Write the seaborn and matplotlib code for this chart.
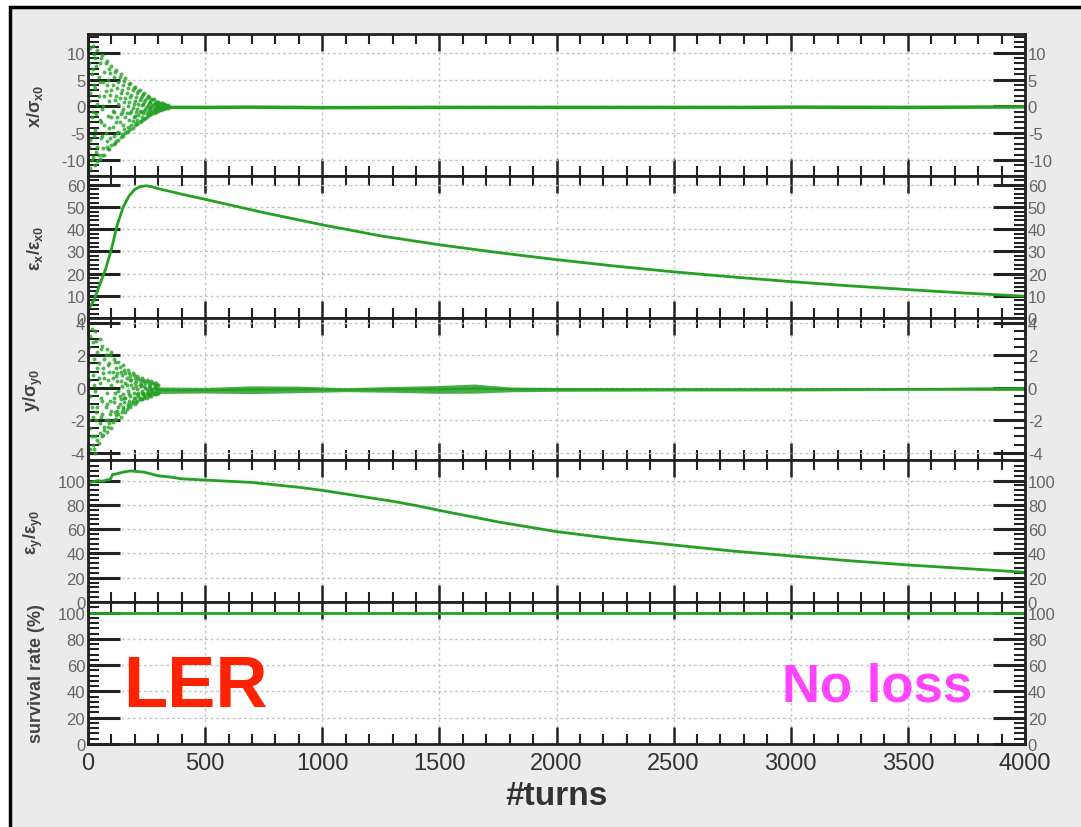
import numpy as np
import pandas as pd
import seaborn as sns
import matplotlib
matplotlib.use("Agg")
import matplotlib.pyplot as plt
from matplotlib.ticker import MultipleLocator
from matplotlib.patches import Rectangle

# ---------------- data ----------------
# panel 1: x / sigma_x0 -- early scattered cloud (turn, value)
x_cloud_turns = [t for t in range(0, 350, 10) for _ in range(4)]
x_cloud_vals = [
    11.5, 5.0, -3.0, -11.0,   10.8, 2.5, -6.2, -11.5,   11.2, 7.0, -1.0, -9.5,
    9.0, 3.5, -4.5, -11.0,    10.5, 0.5, -7.5, -10.2,   8.0, 4.5, -2.5, -9.8,
    9.5, -0.5, -5.5, -9.0,    6.5, 2.0, -3.5, -9.0,     8.5, 4.0, -6.5, -7.5,
    7.0, 1.0, -4.0, -8.0,     7.5, 3.0, -2.0, -7.2,     5.5, -1.0, -5.5, -7.0,
    6.8, 2.0, -3.0, -6.5,     4.5, 0.5, -4.8, -6.2,     6.0, 2.5, -1.5, -5.8,
    4.0, -0.5, -3.5, -5.5,    5.2, 1.5, -2.0, -5.0,     3.5, 0.0, -3.8, -4.6,
    4.4, 1.8, -1.2, -4.2,     3.0, -0.3, -2.8, -4.0,    3.6, 1.0, -1.8, -3.5,
    2.5, -0.5, -2.5, -3.3,    3.0, 1.2, -1.0, -2.9,     2.0, 0.2, -2.0, -2.6,
    2.4, 0.8, -0.8, -2.3,     1.6, -0.2, -1.4, -2.0,    1.8, 0.6, -0.6, -1.7,
    1.2, -0.1, -1.1, -1.5,    1.3, 0.4, -0.5, -1.2,     0.9, 0.0, -0.7, -1.0,
    0.8, 0.3, -0.3, -0.8,     0.6, -0.1, -0.5, -0.6,    0.4, 0.1, -0.2, -0.5,
    0.3, -0.1, -0.3, -0.4,    0.2, 0.0, -0.2, -0.3,
]
x_cloud2_turns = [t for t in range(5, 345, 10) for _ in range(3)]
x_cloud2_vals = [
    8.0, 1.0, -7.5,   6.0, -2.0, -10.0,   9.8, 4.0, -5.5,   7.5, -1.5, -8.5,
    5.5, 2.0, -9.0,   9.0, -3.0, -6.0,    4.5, 0.0, -7.8,   8.0, 2.8, -5.0,
    5.0, -1.8, -8.0,  6.2, 2.2, -6.0,     4.0, -0.8, -3.8,  6.5, 1.2, -6.8,
    3.5, -2.0, -5.0,  5.5, 1.5, -3.0,     3.0, -1.0, -5.2,  4.8, 0.8, -4.2,
    2.5, -1.2, -4.8,  4.2, 0.8, -2.5,     2.2, -0.8, -3.5,  3.5, 0.5, -2.0,
    1.8, -1.0, -3.2,  2.8, 0.4, -1.6,     1.5, -0.8, -2.7,  2.3, 0.5, -1.3,
    1.1, -0.5, -2.1,  1.9, 0.3, -1.0,     0.9, -0.4, -1.5,  1.4, 0.2, -0.8,
    0.7, -0.3, -1.1,  0.9, 0.1, -0.6,     0.5, -0.2, -0.7,  0.6, 0.1, -0.4,
    0.4, -0.1, -0.4,  0.25, 0.05, -0.25,
]
x_line_turns = [340, 500, 700, 1000, 1500, 2000, 2500, 2800, 3000, 3500, 4000]
x_line_vals = [-0.2, -0.2, -0.15, -0.25, -0.2, -0.2, -0.2, -0.2, -0.15, -0.2, -0.1]

# panel 2: eps_x / eps_x0
ex_turns = [0, 25, 50, 75, 100, 125, 150, 175, 200, 225, 250, 275, 300, 400, 500,
            750, 1000, 1250, 1500, 1750, 2000, 2250, 2500, 2750, 3000, 3250, 3500,
            3750, 4000]
ex_vals = [3.5, 8, 15, 22, 31, 42, 50, 55, 58, 59.3, 59.6, 59.1, 58.3, 55.8, 53.5,
           47.5, 42, 37, 33, 29.5, 26.3, 23.4, 20.8, 18.5, 16.4, 14.5, 12.8,
           11.2, 9.8]

# panel 3: y / sigma_y0 -- early cloud and later narrow band
y_cloud_turns = [t for t in range(0, 310, 10) for _ in range(4)]
y_cloud_vals = [
    3.9, 1.5, -1.0, -4.1,   3.2, -0.5, -2.5, -3.8,   2.8, 0.8, -1.8, -3.5,
    3.5, -0.2, -3.0, -4.0,  2.2, 1.2, -1.2, -3.2,    3.0, 0.3, -2.2, -2.8,
    2.6, -0.8, -1.6, -3.0,  1.8, 0.6, -2.6, -2.4,    2.4, -0.3, -1.0, -2.7,
    1.5, 1.0, -2.0, -2.2,   2.2, 0.2, -1.4, -2.5,    1.8, -0.6, -0.9, -2.0,
    1.2, 0.7, -1.7, -1.9,   1.6, -0.2, -1.2, -1.6,   1.0, 0.4, -0.7, -1.8,
    1.4, -0.4, -1.3, -1.2,  0.9, 0.3, -0.6, -1.5,    1.1, -0.2, -1.0, -1.1,
    0.7, 0.5, -0.5, -1.2,   0.9, 0.0, -0.8, -0.9,    0.6, 0.3, -0.6, -1.0,
    0.7, -0.1, -0.4, -0.8,  0.5, 0.2, -0.6, -0.7,    0.6, -0.2, -0.3, -0.7,
    0.4, 0.1, -0.5, -0.6,   0.5, -0.1, -0.3, -0.6,   0.3, 0.1, -0.4, -0.5,
    0.4, -0.1, -0.2, -0.5,  0.3, 0.0, -0.3, -0.4,    0.3, 0.1, -0.2, -0.4,
    0.2, -0.1, -0.3, -0.3,
]
y_cloud2_turns = [t for t in range(5, 305, 10) for _ in range(3)]
y_cloud2_vals = [
    2.5, 0.5, -2.0,   3.6, -1.2, -3.0,  1.8, 0.2, -3.8,   2.9, -1.5, -2.0,
    1.5, 0.6, -3.4,   2.4, -0.6, -1.8,  1.2, 0.9, -2.9,   2.0, -1.2, -2.0,
    1.4, 0.5, -2.4,   2.0, -0.8, -1.6,  1.0, 0.6, -2.1,   1.6, -0.3, -1.5,
    0.9, 0.4, -1.4,   1.3, -0.5, -1.0,  0.8, 0.1, -1.5,   1.1, -0.6, -0.9,
    0.6, 0.2, -1.3,   0.9, -0.4, -0.8,  0.5, 0.2, -1.0,   0.8, -0.3, -0.6,
    0.4, 0.1, -0.9,   0.6, -0.3, -0.5,  0.3, 0.1, -0.7,   0.5, -0.3, -0.4,
    0.3, 0.0, -0.5,   0.4, -0.2, -0.4,  0.2, 0.0, -0.4,   0.3, -0.2, -0.3,
    0.2, 0.0, -0.3,   0.2, -0.1, -0.3,
]
y_band_turns = [300, 500, 700, 900, 1100, 1300, 1500, 1650, 1800, 2000, 2500, 3000, 3500, 4000]
y_band_center = [-0.15, -0.15, -0.12, -0.1, -0.12, -0.1, -0.1, -0.05, -0.1, -0.1, -0.1, -0.1, -0.08, -0.05]
y_band_half = [0.2, 0.17, 0.24, 0.2, 0.12, 0.18, 0.24, 0.28, 0.15, 0.12, 0.1, 0.1, 0.08, 0.12]

# panel 4: eps_y / eps_y0
ey_turns = [0, 20, 40, 60, 80, 95, 105, 120, 150, 180, 210, 240, 270, 300, 350, 400,
            450, 500, 600, 700, 800, 900, 1000, 1100, 1200, 1300, 1400, 1500, 1750,
            2000, 2250, 2500, 2750, 3000, 3250, 3500, 3750, 4000]
ey_vals = [98.5, 99, 100, 99.5, 100.5, 101, 105, 105.5, 107, 108, 107.5, 107, 105.5,
           104, 103, 101.5, 101, 100.5, 99.5, 98.5, 96.5, 94.5, 92, 89, 86, 83, 79.5,
           75.5, 66, 58, 52, 47, 42, 38, 34, 30.5, 27.5, 24.5]

# panel 5: survival rate
surv_turns = [0, 4000]
surv_vals = [100, 100]

ylabels = [r"x/σ$_{x0}$", r"ε$_x$/ε$_{x0}$", r"y/σ$_{y0}$", r"ε$_y$/ε$_{y0}$", "survival rate (%)"]
ylims = [(-13, 13.5), (0, 64), (-4.45, 4.3), (0, 117), (0, 108)]
ymajor = [5, 10, 2, 20, 20]
yminor = [1, 2, 0.5, 4, 4]

# ---------------- styling ----------------
GREEN = "#25a025"
sns.set_theme(style="white")
plt.rcParams["font.family"] = ["Liberation Sans", "DejaVu Sans"]
plt.rcParams["mathtext.fontset"] = "custom"
plt.rcParams["mathtext.rm"] = "Liberation Sans"
plt.rcParams["mathtext.bf"] = "Liberation Sans:bold"
plt.rcParams["mathtext.it"] = "Liberation Sans:italic"
plt.rcParams["mathtext.default"] = "bf"
plt.rcParams["axes.unicode_minus"] = False

fig, axes = plt.subplots(5, 1, figsize=(10.81, 8.28), dpi=100, sharex=True)
fig.patch.set_facecolor("white")
fig.subplots_adjust(left=88 / 1081, right=1025 / 1081, top=1 - 35 / 828,
                    bottom=1 - 745 / 828, hspace=0)

frame = Rectangle((10 / 1081, -0.05), 1.2, (828 - 8) / 828 + 0.05,
                  transform=fig.transFigure, facecolor="#ebebeb",
                  edgecolor="black", linewidth=2.5, zorder=-10)
fig.patches.append(frame)

# panel 1
ax = axes[0]
for tt, vv in ((x_cloud_turns, x_cloud_vals), (x_cloud2_turns, x_cloud2_vals)):
    sns.scatterplot(x=tt, y=vv, ax=ax, color=GREEN, s=8,
                    marker="o", linewidth=0, alpha=0.8)
sns.lineplot(x=x_line_turns, y=x_line_vals, ax=ax, color=GREEN, lw=2.5)

# panel 2
sns.lineplot(x=ex_turns, y=ex_vals, ax=axes[1], color=GREEN, lw=2.0)

# panel 3
ax = axes[2]
for tt, vv in ((y_cloud_turns, y_cloud_vals), (y_cloud2_turns, y_cloud2_vals)):
    sns.scatterplot(x=tt, y=vv, ax=ax, color=GREEN, s=8,
                    marker="o", linewidth=0, alpha=0.8)
yc = np.array(y_band_center)
yh = np.array(y_band_half)
ax.fill_between(y_band_turns, yc - yh, yc + yh, color=GREEN, lw=0, alpha=0.85)
sns.lineplot(x=y_band_turns, y=y_band_center, ax=ax, color=GREEN, lw=1.5)

# panel 4
sns.lineplot(x=ey_turns, y=ey_vals, ax=axes[3], color=GREEN, lw=2.0)

# panel 5
sns.lineplot(x=surv_turns, y=surv_vals, ax=axes[4], color=GREEN, lw=2.0)

for i, ax in enumerate(axes):
    ax.set_facecolor("white")
    ax.set_xlim(0, 4000)
    ax.set_ylim(*ylims[i])
    ax.xaxis.set_major_locator(MultipleLocator(500))
    ax.xaxis.set_minor_locator(MultipleLocator(100))
    ax.yaxis.set_major_locator(MultipleLocator(ymajor[i]))
    ax.yaxis.set_minor_locator(MultipleLocator(yminor[i]))
    ax.tick_params(axis="x", which="both", direction="in", top=True, bottom=True,
                   labelbottom=(i == 4), labelsize=17, labelcolor="#333", pad=6,
                   color="#222")
    ax.tick_params(axis="x", which="major", length=12, width=1.8)
    ax.tick_params(axis="x", which="minor", length=7, width=1.5)
    ax.tick_params(axis="y", which="both", direction="in", left=True, right=True,
                   labelleft=True, labelright=True, labelsize=12,
                   labelcolor="#666", pad=2, color="#222")
    ax.tick_params(axis="y", which="major", length=23, width=2.2)
    ax.tick_params(axis="y", which="minor", length=8, width=1.5)
    ax.grid(True, which="major", linestyle=(0, (2, 2)), color="#c4c4c4", lw=1)
    for s in ax.spines.values():
        s.set_visible(True)
        s.set_color("#222")
        s.set_linewidth(2)
    ax.set_ylabel(ylabels[i], fontsize=13, fontweight="bold", color="#444")
    ax.yaxis.set_label_coords(-0.046, 0.5)
    ax.set_xlabel("")

fig.text((88 + 1025) / 2 / 1081, 1 - 797 / 828, "#turns", fontsize=24,
         fontweight="bold", color="#333", ha="center", va="center")
fig.text(123 / 1081, 1 - 707 / 828, "LER", fontsize=52, fontweight="bold",
         color="#ff2200", ha="left", va="baseline")
fig.text(782 / 1081, 1 - 702 / 828, "No loss", fontsize=38, fontweight="bold",
         color="#ff44ff", ha="left", va="baseline")

fig.savefig("out.png", dpi=100)
